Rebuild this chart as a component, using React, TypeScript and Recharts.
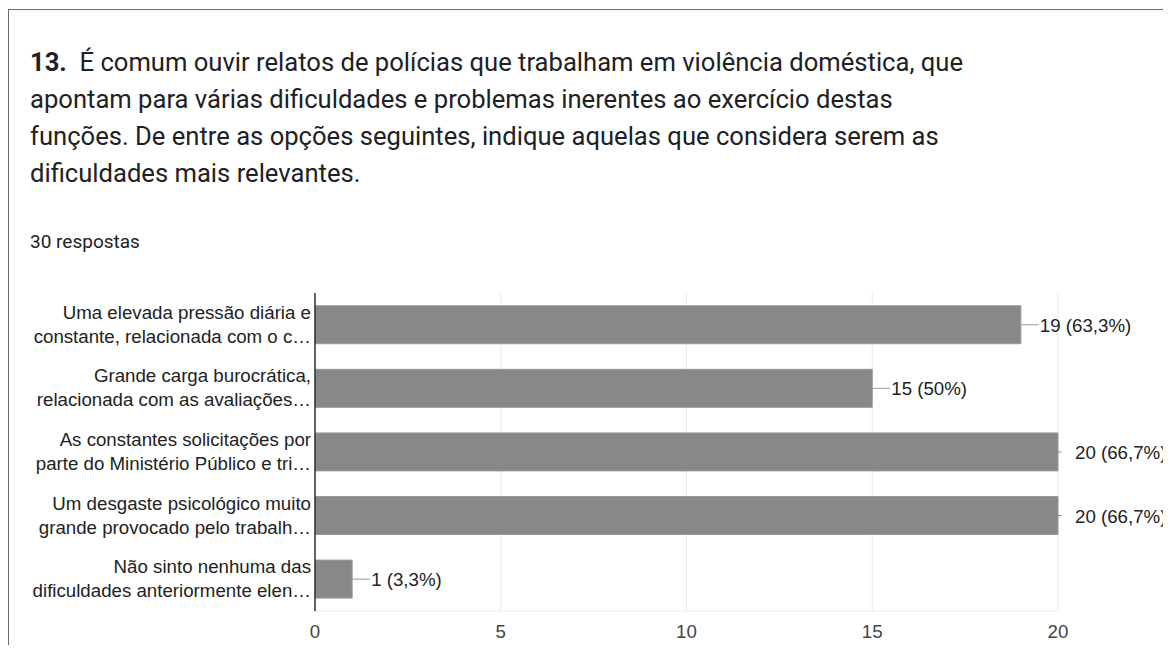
import React from "react";
import { BarChart, Bar, XAxis, YAxis, CartesianGrid, LabelList } from "recharts";

const categories = [
  "Uma elevada pressão diária e\nconstante, relacionada com o c…",
  "Grande carga burocrática,\nrelacionada com as avaliações…",
  "As constantes solicitações por\nparte do Ministério Público e tri…",
  "Um desgaste psicológico muito\ngrande provocado pelo trabalh…",
  "Não sinto nenhuma das\ndificuldades anteriormente elen…",
];
const counts = [19, 15, 20, 20, 1];
const valueLabels = ["19 (63,3%)", "15 (50%)", "20 (66,7%)", "20 (66,7%)", "1 (3,3%)"];
const xTicks = [0, 5, 10, 15, 20];
const titleLines = [
  "É comum ouvir relatos de polícias que trabalham em violência doméstica, que",
  "apontam para várias dificuldades e problemas inerentes ao exercício destas",
  "funções. De entre as opções seguintes, indique aquelas que considera serem as",
  "dificuldades mais relevantes.",
];

const data = categories.map((name, i) => ({ name, value: counts[i], label: valueLabels[i] }));

const AXIS_MAX = 20;
const CHART_FONT = "'Liberation Sans', Arial, sans-serif";

const CategoryTick = (props: any) => {
  const { x, y, payload } = props;
  const lines = String(payload.value).split("\n");
  return (
    <g>
      <text x={x} y={y - 6} textAnchor="end" fill="#222" fontSize={18.7} fontFamily={CHART_FONT}>
        {lines[0]}
      </text>
      <text x={x} y={y + 18} textAnchor="end" fill="#222" fontSize={18.7} fontFamily={CHART_FONT}>
        {lines[1]}
      </text>
    </g>
  );
};

const ValueLabel = (props: any) => {
  const { x, y, width, height, index } = props;
  const end = x + width;
  const cy = y + height / 2;
  const atMax = counts[index] >= AXIS_MAX;
  const lineLen = atMax ? 4 : 18;
  const textX = atMax ? end + 17 : end + 19;
  return (
    <g>
      <line x1={end} y1={cy} x2={end + lineLen} y2={cy} stroke="#999" strokeWidth={1} />
      <text x={textX} y={cy + 7} fill="#222" fontSize={18.7} fontFamily={CHART_FONT}>
        {valueLabels[index]}
      </text>
    </g>
  );
};

export default function App() {
  return (
    <div style={{ position: "relative", margin: -8, width: 1171, height: 653, overflow: "hidden", background: "#fff" }}>
      <div
        style={{
          position: "absolute",
          left: 8,
          top: 9,
          width: 1300,
          height: 800,
          borderLeft: "1.5px solid #6b6b6b",
          borderTop: "1.5px solid #6b6b6b",
        }}
      />
      <div
        style={{
          position: "absolute",
          left: 30,
          top: 44,
          fontFamily: "Roboto, sans-serif",
          fontSize: 25.6,
          lineHeight: "37px",
          color: "#202124",
          whiteSpace: "nowrap",
        }}
      >
        {titleLines.map((t, i) => (
          <div key={i}>
            {i === 0 && <b style={{ fontWeight: 700 }}>13.</b>}
            {i === 0 ? "\u00a0\u00a0" + t : t}
          </div>
        ))}
      </div>
      <div
        style={{
          position: "absolute",
          left: 30,
          top: 231,
          fontFamily: "Roboto, sans-serif",
          fontSize: 19,
          lineHeight: "22px",
          color: "#202124",
        }}
      >
        30 respostas
      </div>
      <div style={{ position: "absolute", left: 0, top: 0 }}>
        <BarChart
          width={1220}
          height={653}
          data={data}
          layout="vertical"
          margin={{ top: 293, right: 162, bottom: 12, left: 6 }}
          barCategoryGap="20%"
        >
          <CartesianGrid horizontal={false} stroke="#ebebeb" />
          <XAxis
            type="number"
            domain={[0, AXIS_MAX]}
            ticks={xTicks}
            axisLine={{ stroke: "#ebebeb" }}
            tickLine={false}
            height={30}
            tick={{ fill: "#444", fontSize: 18.7, fontFamily: CHART_FONT }}
            tickMargin={8}
          />
          <YAxis
            type="category"
            dataKey="name"
            width={309}
            axisLine={{ stroke: "#333", strokeWidth: 1.5 }}
            tickLine={false}
            tickSize={2}
            tickMargin={2}
            tick={<CategoryTick />}
            interval={0}
          />
          <Bar dataKey="value" fill="#888888" stroke="#9a9a9a" strokeWidth={1} isAnimationActive={false}>
            <LabelList dataKey="value" content={<ValueLabel />} />
          </Bar>
        </BarChart>
      </div>
    </div>
  );
}
